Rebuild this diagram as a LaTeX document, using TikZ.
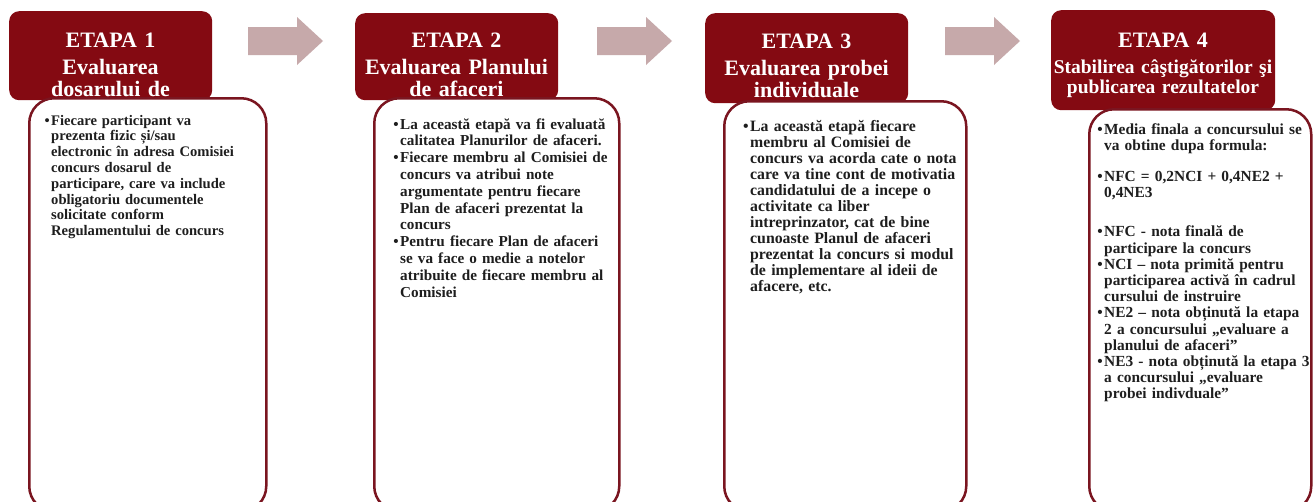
\documentclass[tikz,border=0pt]{standalone}
\usepackage{fontspec}
\setmainfont{Liberation Serif}
\usepackage{tikz}
\definecolor{etapared}{HTML}{840A12}
\definecolor{boxline}{HTML}{7A1520}
\definecolor{arrowgrey}{HTML}{C6A9AA}
\definecolor{bodyink}{HTML}{1E1E1E}
\tikzset{
	head/.style={fill=etapared, rounded corners=10pt, anchor=north west, inner sep=0pt},
	headtitle/.style={text=white, font=\bfseries\fontsize{22}{22}\selectfont, align=center, text width=230pt, inner sep=0pt, anchor=base},
	bodybox/.style={draw=boxline, line width=2.5pt, fill=white, rounded corners=25pt, anchor=north west, inner sep=0pt},
	bodytext/.style={text=bodyink, align=left, text width=260pt, inner sep=0pt, anchor=base west},
	stagearrow/.style={fill=arrowgrey}
}
\newcommand{\bul}{\leavevmode\llap{\textbullet\hspace{1.5pt}}}

\begin{document}
\begin{tikzpicture}[x=1pt,y=-1pt]
		\clip (0,0) rectangle (1314,501);
		\fill[white] (0,0) rectangle (1314,501);
		
		% arrows between the stages
		\foreach \x in {248,597,945}
		{
			\fill[stagearrow] (\x,27) -- ++(49,0) -- ++(0,-10) -- ++(26,24) -- ++(-26,24) -- ++(0,-10) -- ++(-49,0) -- cycle;
		}
		
		% headers
		\node[head, minimum width=203pt, minimum height=89pt] (h1) at (9,11) {};
		\node[head, minimum width=203pt, minimum height=87pt] (h2) at (355,13) {};
		\node[head, minimum width=203pt, minimum height=90pt] (h3) at (705,13) {};
		\node[head, minimum width=224pt, minimum height=100pt] (h4) at (1051,10) {};
		
		\node[headtitle] (h1n) at (110.5,47) {ETAPA 1};
		\node[headtitle] (h1s) at (110.5,74) {Evaluarea\\dosarului de};
		\node[headtitle] (h2n) at (456.5,47) {ETAPA 2};
		\node[headtitle] (h2s) at (456.5,74) {Evaluarea Planului\\de afaceri};
		\node[headtitle] (h3n) at (806.5,48) {ETAPA 3};
		\node[headtitle] (h3s) at (806.5,75) {Evaluarea probei\\individuale};
		\node[headtitle] (h4n) at (1163,47) {ETAPA 4};
		\node[headtitle, font=\bfseries\fontsize{19.5}{20}\selectfont] (h4s) at (1163,73) {Stabilirea câştigătorilor şi\\publicarea rezultatelor};
		
		% body boxes
		\node[bodybox, minimum width=237pt, minimum height=413pt] (b1) at (28,97) {};
		\node[bodybox, minimum width=245pt, minimum height=413pt] (b2) at (373,97) {};
		\node[bodybox, minimum width=242pt, minimum height=410pt] (b3) at (723,100) {};
		\node[bodybox, minimum width=222pt, minimum height=402pt] (b4) at (1088,108) {};
		
		\node[bodytext, font=\bfseries\fontsize{14.6}{15.8}\selectfont] (t1) at (51,125) {\bul Fiecare participant va\\
			prezenta fizic și/sau\\
			electronic în adresa Comisiei\\
			concurs dosarul de\\
			participare, care va include\\
			obligatoriu documentele\\
			solicitate conform\\
			Regulamentului de concurs};
		\node[bodytext, font=\bfseries\fontsize{15.2}{16.8}\selectfont] (t2) at (400,129) {\bul La această etapă va fi evaluată\\
			calitatea Planurilor de afaceri.\\
			\bul Fiecare membru al Comisiei de\\
			concurs va atribui note\\
			argumentate pentru fiecare\\
			Plan de afaceri prezentat la\\
			concurs\\
			\bul Pentru fiecare Plan de afaceri\\
			se va face o medie a notelor\\
			atribuite de fiecare membru al\\
			Comisiei};
		\node[bodytext, font=\bfseries\fontsize{15.8}{16}\selectfont] (t3) at (750,131) {\bul La această etapă fiecare\\
			membru al Comisiei de\\
			concurs va acorda cate o nota\\
			care va tine cont de motivatia\\
			candidatului de a incepe o\\
			activitate ca liber\\
			intreprinzator, cat de bine\\
			cunoaste Planul de afaceri\\
			prezentat la concurs si modul\\
			de implementare al ideii de\\
			afacere, etc.};
		\node[bodytext, font=\bfseries\fontsize{15.4}{16.2}\selectfont] (t4) at (1104,134) {\bul Media finala a concursului se\\
			va obtine dupa formula:\\[15pt]
			\bul NFC = 0,2NCI + 0,4NE2 +\\
			0,4NE3\\[23pt]
			\bul NFC - nota finală de\\
			participare la concurs\\
			\bul NCI – nota primită pentru\\
			participarea activă în cadrul\\
			cursului de instruire\\
			\bul NE2 – nota obținută la etapa\\
			2 a concursului „evaluare a\\
			planului de afaceri"\\
			\bul NE3 - nota obținută la etapa 3\\
			a concursului „evaluare\\
			probei indivduale"};
	\end{tikzpicture}
\end{document}
